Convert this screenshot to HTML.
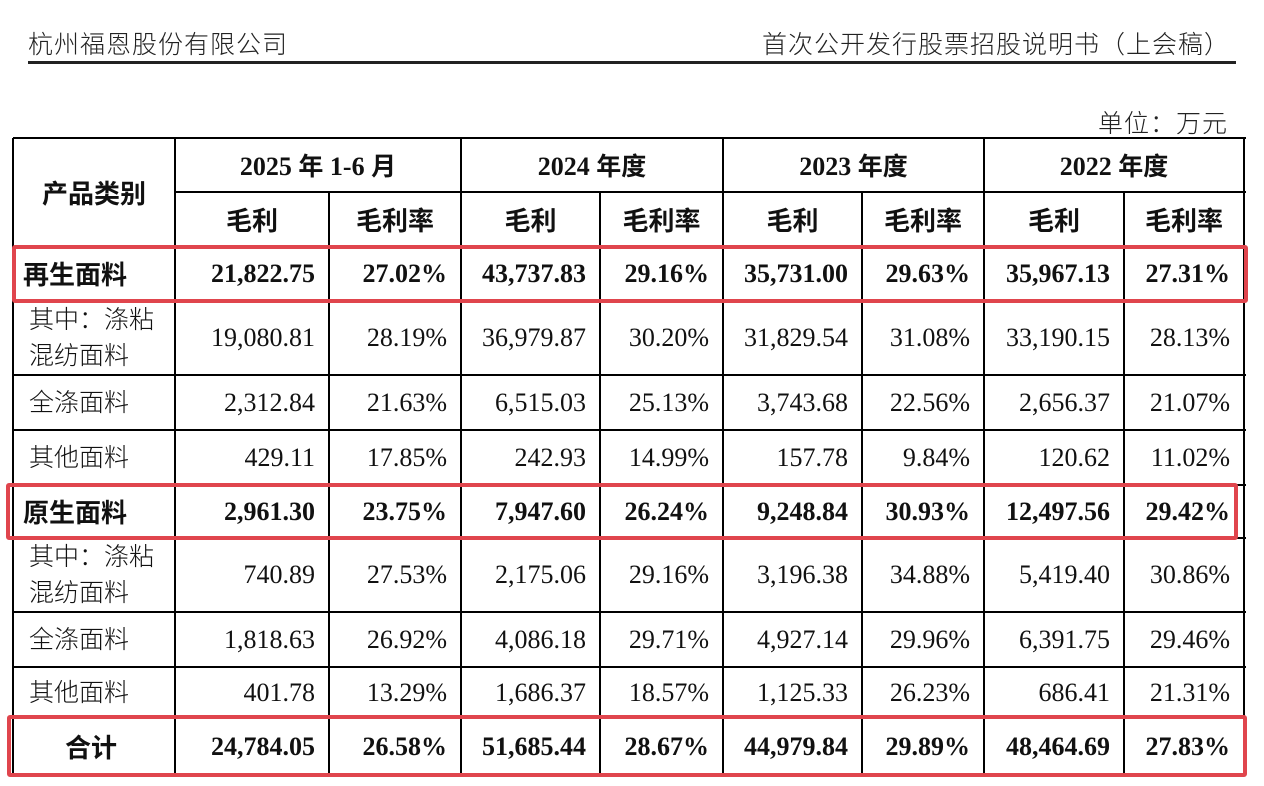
<!DOCTYPE html>
<html><head><meta charset="utf-8">
<style>
body{margin:0;width:1264px;height:786px;background:#fff;position:relative;overflow:hidden;font-family:"Liberation Serif","Noto Serif CJK SC",serif;color:#111}
.hd{position:absolute;top:25px;font-family:"Liberation Sans","Noto Sans CJK SC",sans-serif;font-size:25px;font-weight:300;color:#222;letter-spacing:1px}
.rule{position:absolute;left:28px;width:1208px;top:61px;height:3px;background:#222}
.c{position:absolute;box-sizing:border-box;display:flex;align-items:center;font-size:26px}
.r{justify-content:flex-end;padding-right:14px}
.m{justify-content:center}
.b{font-weight:bold}
.cj{font-family:"Liberation Sans","Noto Sans CJK SC",sans-serif;font-weight:300;font-size:25px;padding-left:16px;line-height:36px}
.cjb{font-family:"Liberation Sans","Noto Sans CJK SC",sans-serif;font-weight:bold;font-size:26px}
.hl{position:absolute;background:#000;height:2px}
.vl{position:absolute;background:#000;width:2px}
.box{position:absolute;border:4px solid #e0454d;border-radius:3px;box-sizing:border-box}
</style></head><body>
<div class="hd" style="left:28px">杭州福恩股份有限公司</div>
<div class="hd" style="right:34px">首次公开发行股票招股说明书（上会稿）</div>
<div class="rule"></div>
<div class="hd" style="top:104px;right:36px">单位：万元</div>
<div id="t"></div>
<script>
const years=['2025 年 1-6 月','2024 年度','2023 年度','2022 年度'];
const rowLabels=['再生面料','其中：涤粘<br>混纺面料','全涤面料','其他面料','原生面料','其中：涤粘<br>混纺面料','全涤面料','其他面料','合计'];
const boldRows=[0,4,8];
const values=[
['21,822.75','27.02%','43,737.83','29.16%','35,731.00','29.63%','35,967.13','27.31%'],
['19,080.81','28.19%','36,979.87','30.20%','31,829.54','31.08%','33,190.15','28.13%'],
['2,312.84','21.63%','6,515.03','25.13%','3,743.68','22.56%','2,656.37','21.07%'],
['429.11','17.85%','242.93','14.99%','157.78','9.84%','120.62','11.02%'],
['2,961.30','23.75%','7,947.60','26.24%','9,248.84','30.93%','12,497.56','29.42%'],
['740.89','27.53%','2,175.06','29.16%','3,196.38','34.88%','5,419.40','30.86%'],
['1,818.63','26.92%','4,086.18','29.71%','4,927.14','29.96%','6,391.75','29.46%'],
['401.78','13.29%','1,686.37','18.57%','1,125.33','26.23%','686.41','21.31%'],
['24,784.05','26.58%','51,685.44','28.67%','44,979.84','29.89%','48,464.69','27.83%']];
const X=[13,175,329,461,600,723,862,984,1124,1244];
const Y=[138,192,247,300,375,430,485,538,612,667,718,775];
const t=document.getElementById('t');
function add(cls,x,y,w,h,html,name){const d=document.createElement('div');d.className=cls;d.style.cssText=`left:${x}px;top:${y}px;width:${w}px;height:${h}px`;if(html!==undefined)d.innerHTML=html;


t.appendChild(d);return d;}
add('c m cjb',X[0],Y[0],X[1]-X[0],Y[2]-Y[0],'产品类别','header-product-category');
years.forEach((yr,i)=>{
 add('c m b',X[1+2*i],Y[0],X[3+2*i]-X[1+2*i],Y[1]-Y[0],'<span style="white-space:pre">'+yr.replace(/年|月|度/g,m=>'<span class="cjb" style="font-size:25px">'+m+'</span>')+'</span>','header-year');
 add('c m cjb',X[1+2*i],Y[1],X[2+2*i]-X[1+2*i],Y[2]-Y[1],'毛利','header-gross-profit');
 add('c m cjb',X[2+2*i],Y[1],X[3+2*i]-X[2+2*i],Y[2]-Y[1],'毛利率','header-gross-margin');
});
rowLabels.forEach((lb,r)=>{
 const b=boldRows.includes(r);
 const y0=Y[2+r],h=Y[3+r]-y0;
 add('c '+(b?'cjb':'cj'),X[0],y0,X[1]-X[0],h,lb,'row-label');
 const e=t.lastChild; if(b){e.style.paddingLeft=(r==8?'52px':'10px');}
 values[r].forEach((v,j)=>{add('c r'+(b?' b':''),X[1+j],y0,X[2+j]-X[1+j],h,v,'cell-value');});
});
Y.forEach((y,i)=>{ if(i===1){add('hl',X[1],y-1,X[9]-X[1]+2,undefined,undefined,'grid-line');} else add('hl',X[0],y-1,X[9]-X[0]+2,undefined,undefined,'grid-line');});
X.forEach((x,i)=>{ if(i%2===0&&i>0&&i<9){add('vl',x-1,Y[1],undefined,Y[11]-Y[1],undefined,'grid-line');} else add('vl',x-1,Y[0],undefined,Y[11]-Y[0],undefined,'grid-line');});
t.querySelectorAll('.hl').forEach(e=>e.style.height='2px');
t.querySelectorAll('.vl').forEach(e=>e.style.width='2px');
add('box',12,245,1236,58,undefined,'highlight-recycled');
add('box',6,483,1232,57,undefined,'highlight-virgin');
add('box',7,715,1240,62,undefined,'highlight-total');
</script>
</body></html>
